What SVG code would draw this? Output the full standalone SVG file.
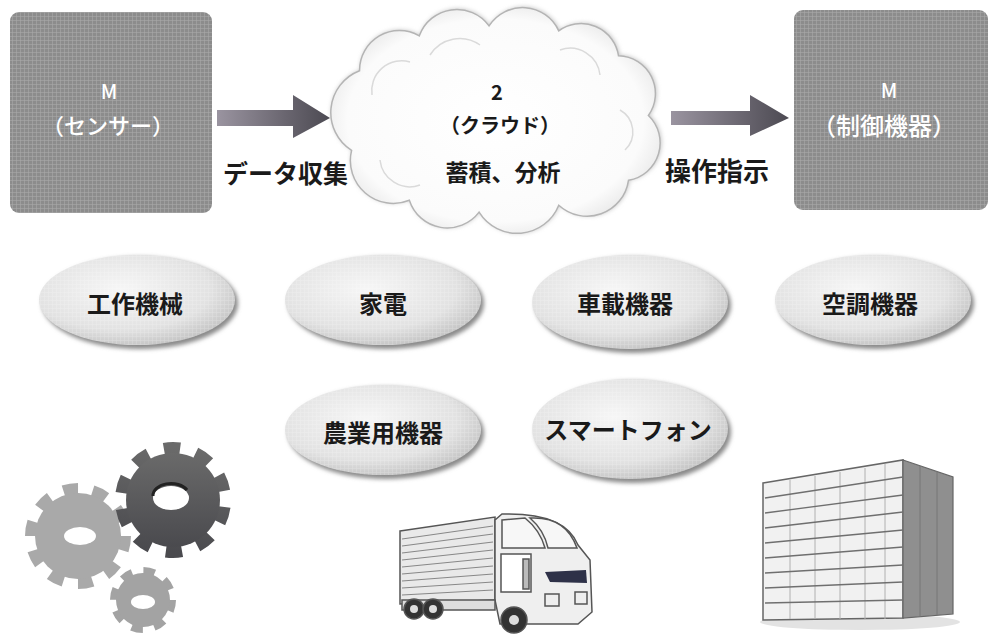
<svg xmlns="http://www.w3.org/2000/svg" width="990" height="638" viewBox="0 0 990 638">
  <defs>
    <style>
      .jp { font-family: "Noto Sans CJK JP", "Noto Sans", sans-serif; }
      .boxtxt { fill: #ffffff; text-anchor: middle; font-weight: 500; }
      .lbl { fill: #1a1a1a; font-weight: 700; }
      .oval-txt { fill: #1a1a1a; font-weight: 700; font-size: 24px; text-anchor: middle; }
      .cloud-txt { fill: #1a1a1a; font-weight: 700; text-anchor: middle; }
      .slat { stroke: #888; stroke-width: 1.2; }
      .floor { stroke: #6f6f6f; stroke-width: 1.3; }
      .mull { stroke: #b0b0b0; stroke-width: 1; }
    </style>
    <pattern id="grid" width="4" height="4" patternUnits="userSpaceOnUse">
      <path d="M0,0.5 H4 M0.5,0 V4" stroke="#ffffff" stroke-width="0.6" opacity="0.25"/>
    </pattern>
    <linearGradient id="arrowGrad" x1="0" y1="0" x2="1" y2="0">
      <stop offset="0" stop-color="#9a94a0"/>
      <stop offset="0.6" stop-color="#6a6670"/>
      <stop offset="1" stop-color="#4c4a52"/>
    </linearGradient>
    <radialGradient id="ovalGrad" cx="0.42" cy="0.38" r="0.65">
      <stop offset="0" stop-color="#f6f6f6"/>
      <stop offset="0.7" stop-color="#e2e2e2"/>
      <stop offset="1" stop-color="#c4c4c4"/>
    </radialGradient>
    <radialGradient id="cloudGrad" cx="0.5" cy="0.5" r="0.6">
      <stop offset="0" stop-color="#ffffff"/>
      <stop offset="0.75" stop-color="#fbfbfb"/>
      <stop offset="1" stop-color="#dcdcdc"/>
    </radialGradient>
    <linearGradient id="darkGear" x1="0" y1="0" x2="0" y2="1">
      <stop offset="0" stop-color="#6a6a6a"/>
      <stop offset="1" stop-color="#4a4a4e"/>
    </linearGradient>
    <filter id="soft" x="-10%" y="-10%" width="120%" height="120%">
      <feGaussianBlur stdDeviation="2"/>
    </filter>
  </defs>

  <rect width="990" height="638" fill="#ffffff"/>

  <!-- sensor box -->
  <g id="node-sensor">
    <rect x="10" y="12" width="202" height="201" rx="9" fill="#8c8c8c"/>
    <rect x="10" y="12" width="202" height="201" rx="9" fill="url(#grid)"/>
    <text class="jp boxtxt" x="109" y="99" font-size="20">M</text>
    <text class="jp boxtxt" x="108" y="134" font-size="22">（センサー）</text>
  </g>

  <!-- cloud -->
  <g id="node-cloud">
    <path d="M352,150 A45,45 0 0 1 360,70 A40,40 0 0 1 420,35 A40,40 0 0 1 490,25 A40,40 0 0 1 560,30 A38,38 0 0 1 620,55 A38,38 0 0 1 650,115 A38,38 0 0 1 630,180 A42,42 0 0 1 560,205 A45,45 0 0 1 480,212 A40,40 0 0 1 410,200 A43,43 0 0 1 352,150 Z" fill="#c9c9c9" filter="url(#soft)"/>
    <path d="M352,150 A45,45 0 0 1 360,70 A40,40 0 0 1 420,35 A40,40 0 0 1 490,25 A40,40 0 0 1 560,30 A38,38 0 0 1 620,55 A38,38 0 0 1 650,115 A38,38 0 0 1 630,180 A42,42 0 0 1 560,205 A45,45 0 0 1 480,212 A40,40 0 0 1 410,200 A43,43 0 0 1 352,150 Z" fill="url(#cloudGrad)" stroke="#b4b4b4" stroke-width="1.5" transform="translate(1,1) scale(0.996)"/>
    <g fill="none" stroke="#dadada" stroke-width="1.5">
      <path d="M372,95 A30,30 0 0 1 410,62"/>
      <path d="M430,55 A35,35 0 0 1 480,45"/>
      <path d="M560,50 A30,30 0 0 1 600,75"/>
      <path d="M620,110 A25,25 0 0 1 625,150"/>
      <path d="M420,185 A30,30 0 0 1 380,160"/>
    </g>
    <text class="jp cloud-txt" x="497" y="100" font-size="20">2</text>
    <text class="jp cloud-txt" x="500" y="133" font-size="20">（クラウド）</text>
    <text class="jp cloud-txt" x="503" y="181" font-size="23">蓄積、分析</text>
  </g>

  <!-- control device box -->
  <g id="node-control">
    <rect x="794" y="10" width="194" height="200" rx="9" fill="#8c8c8c"/>
    <rect x="794" y="10" width="194" height="200" rx="9" fill="url(#grid)"/>
    <text class="jp boxtxt" x="889" y="98" font-size="20">M</text>
    <text class="jp boxtxt" x="884" y="135" font-size="24">（制御機器）</text>
  </g>

  <!-- connectors -->
  <g id="connectors">
    <polygon points="217,110 293,110 293,95 330,118 293,138 293,126 217,126" fill="url(#arrowGrad)"/>
    <polygon points="671,111 750,111 750,95 789,118 750,136 750,125 671,125" fill="url(#arrowGrad)"/>
    <text class="jp lbl" x="223" y="183" font-size="25">データ収集</text>
    <text class="jp lbl" x="665" y="181" font-size="26">操作指示</text>
  </g>

  <!-- application ovals -->
  <g id="node-machine-tools">
    <ellipse cx="140" cy="303" rx="98" ry="46" fill="#8a8a8a" filter="url(#soft)"/>
    <ellipse cx="137" cy="300" rx="98" ry="45" fill="url(#ovalGrad)"/>
    <ellipse cx="137" cy="300" rx="98" ry="45" fill="url(#grid)"/>
    <text class="jp oval-txt" x="135" y="313">工作機械</text>
  </g>
  <g id="node-appliances">
    <ellipse cx="386" cy="303" rx="98" ry="46" fill="#8a8a8a" filter="url(#soft)"/>
    <ellipse cx="383" cy="300" rx="98" ry="45" fill="url(#ovalGrad)"/>
    <ellipse cx="383" cy="300" rx="98" ry="45" fill="url(#grid)"/>
    <text class="jp oval-txt" x="383" y="313">家電</text>
  </g>
  <g id="node-vehicle">
    <ellipse cx="633" cy="305" rx="98" ry="48" fill="#8a8a8a" filter="url(#soft)"/>
    <ellipse cx="630" cy="302" rx="98" ry="47" fill="url(#ovalGrad)"/>
    <ellipse cx="630" cy="302" rx="98" ry="47" fill="url(#grid)"/>
    <text class="jp oval-txt" x="625" y="313">車載機器</text>
  </g>
  <g id="node-hvac">
    <ellipse cx="876" cy="303" rx="98" ry="46" fill="#8a8a8a" filter="url(#soft)"/>
    <ellipse cx="873" cy="300" rx="98" ry="45" fill="url(#ovalGrad)"/>
    <ellipse cx="873" cy="300" rx="98" ry="45" fill="url(#grid)"/>
    <text class="jp oval-txt" x="870" y="313">空調機器</text>
  </g>
  <g id="node-agri">
    <ellipse cx="386" cy="433" rx="98" ry="46" fill="#8a8a8a" filter="url(#soft)"/>
    <ellipse cx="383" cy="430" rx="98" ry="45" fill="url(#ovalGrad)"/>
    <ellipse cx="383" cy="430" rx="98" ry="45" fill="url(#grid)"/>
    <text class="jp oval-txt" x="383" y="442">農業用機器</text>
  </g>
  <g id="node-smartphone">
    <ellipse cx="633" cy="432" rx="98" ry="51" fill="#8a8a8a" filter="url(#soft)"/>
    <ellipse cx="630" cy="429" rx="98" ry="50" fill="url(#ovalGrad)"/>
    <ellipse cx="630" cy="429" rx="98" ry="50" fill="url(#grid)"/>
    <text class="jp oval-txt" x="628" y="439">スマートフォン</text>
  </g>

  <!-- gears -->
  <g id="gears">
    <g transform="translate(78,536)">
      <circle r="47.5" fill="none" stroke="#a9a9a9" stroke-width="11" stroke-dasharray="14.9 14.9"/>
      <circle r="43" fill="#a9a9a9"/>
      <ellipse cx="2" cy="0" rx="16" ry="9" fill="#ffffff"/>
    </g>
    <g transform="translate(173,500)">
      <circle r="52" fill="none" stroke="url(#darkGear)" stroke-width="12" stroke-dasharray="16.3 16.3" transform="rotate(8)"/>
      <circle r="47" fill="url(#darkGear)"/>
      <ellipse cx="-2" cy="-2" rx="18" ry="12" fill="#ffffff"/>
      <path d="M-20,-4 A18,12 0 0 1 14,-10" fill="none" stroke="#222" stroke-width="3"/>
    </g>
    <g transform="translate(143,600)">
      <circle r="29.5" fill="none" stroke="#a3a3a3" stroke-width="7" stroke-dasharray="11.6 11.6"/>
      <circle r="27" fill="#a3a3a3"/>
      <ellipse cx="0" cy="2" rx="12" ry="7" fill="#ffffff"/>
    </g>
  </g>

  <!-- truck -->
  <g id="truck" fill="none" stroke="#555" stroke-width="1.5">
    <polygon points="400,531 495,517 495,600 400,604" fill="#e9e9e9"/>
    <line class="slat" x1="402" y1="539" x2="493" y2="526"/>
    <line class="slat" x1="402" y1="546" x2="493" y2="534"/>
    <line class="slat" x1="402" y1="553" x2="493" y2="542"/>
    <line class="slat" x1="402" y1="560" x2="493" y2="550"/>
    <line class="slat" x1="402" y1="567" x2="493" y2="558"/>
    <line class="slat" x1="402" y1="574" x2="493" y2="566"/>
    <line class="slat" x1="402" y1="581" x2="493" y2="574"/>
    <line class="slat" x1="402" y1="588" x2="493" y2="582"/>
    <line class="slat" x1="402" y1="595" x2="493" y2="590"/>
    <path d="M495,520 L502,514 Q565,512 578,545 L590,560 L592,612 L578,624 L500,624 L495,600 Z" fill="#efefef"/>
    <path d="M502,520 L525,518 Q540,530 545,548 L502,548 Z" fill="#f7f7f7"/>
    <path d="M530,518 Q566,516 577,548 L548,548 Q544,530 530,518 Z" fill="#f7f7f7"/>
    <rect x="501" y="554" width="30" height="38" fill="#ffffff"/>
    <rect x="523" y="559" width="6" height="30" fill="#bbb"/>
    <path d="M545,572 L586,570 L587,583 L550,582 Z" fill="#2e3148" stroke="none"/>
    <rect x="545" y="594" width="14" height="12" fill="#eee"/>
    <rect x="575" y="592" width="12" height="12" fill="#eee"/>
    <rect x="402" y="600" width="93" height="10" fill="#ddd"/>
    <circle cx="414" cy="609" r="10" fill="#333"/>
    <circle cx="433" cy="609" r="10" fill="#333"/>
    <circle cx="414" cy="609" r="4" fill="#ddd" stroke="none"/>
    <circle cx="433" cy="609" r="4" fill="#ddd" stroke="none"/>
    <circle cx="514" cy="620" r="13" fill="#333"/>
    <circle cx="514" cy="620" r="5" fill="#ddd" stroke="none"/>
  </g>

  <!-- office building -->
  <g id="building">
    <ellipse cx="860" cy="622" rx="100" ry="8" fill="#e3e3e3"/>
    <polygon points="763,483 903,460 903,618 763,620" fill="#f1f1f1" stroke="#666" stroke-width="1.5"/>
    <polygon points="903,460 953,477 953,614 903,618" fill="#8f8f8f" stroke="#666" stroke-width="1.2"/>
    <line class="mull" x1="790" y1="480" x2="790" y2="619"/>
    <line class="mull" x1="815" y1="476" x2="815" y2="619"/>
    <line class="mull" x1="840" y1="472" x2="840" y2="619"/>
    <line class="mull" x1="865" y1="468" x2="865" y2="619"/>
    <line class="mull" x1="885" y1="464" x2="885" y2="619"/>
    <line class="floor" x1="765" y1="498" x2="903" y2="477"/>
    <line class="floor" x1="765" y1="513" x2="903" y2="495"/>
    <line class="floor" x1="765" y1="528" x2="903" y2="512"/>
    <line class="floor" x1="765" y1="543" x2="903" y2="530"/>
    <line class="floor" x1="765" y1="558" x2="903" y2="547"/>
    <line class="floor" x1="765" y1="573" x2="903" y2="565"/>
    <line class="floor" x1="765" y1="588" x2="903" y2="582"/>
    <line class="floor" x1="765" y1="603" x2="903" y2="600"/>
    <line x1="920" y1="466" x2="920" y2="616" stroke="#777" stroke-width="1"/>
    <line x1="937" y1="471" x2="937" y2="615" stroke="#777" stroke-width="1"/>
  </g>
</svg>
